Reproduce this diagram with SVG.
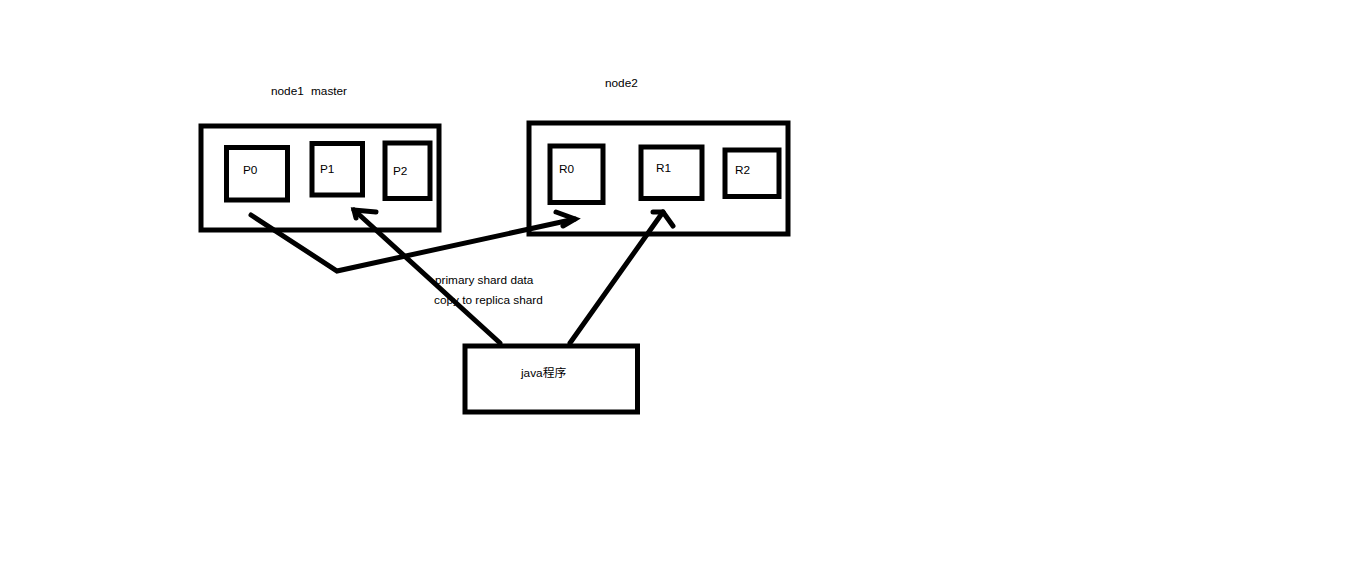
<svg xmlns="http://www.w3.org/2000/svg" width="1360" height="561" viewBox="0 0 1360 561">
<style>
.box{fill:none;stroke:#000;stroke-width:5}
.sub{fill:none;stroke:#000;stroke-width:5}
.ln{fill:none;stroke:#000;stroke-width:5;stroke-linejoin:miter;stroke-linecap:round}
text{font-family:"Liberation Sans","Noto Sans CJK SC",sans-serif;font-size:11.8px;fill:#000}
</style>
<rect width="1360" height="561" fill="#fff"/>
<g id="node1">
<text x="271" y="95">node1</text>
<text x="311" y="95">master</text>
<rect class="box" x="201" y="126" width="238" height="104"/>
</g>
<g id="P0"><rect class="sub" x="226.5" y="147.5" width="61" height="52.5"/><text x="243" y="174">P0</text></g>
<g id="P1"><rect class="sub" x="312" y="143.5" width="50.5" height="51.5"/><text x="320" y="173">P1</text></g>
<g id="P2"><rect class="sub" x="385" y="143" width="45" height="55.5"/><text x="393" y="175">P2</text></g>
<g id="node2">
<text x="605" y="87">node2</text>
<rect class="box" x="529" y="123" width="259" height="111"/>
</g>
<g id="R0"><rect class="sub" x="550" y="146" width="53" height="56.5"/><text x="559" y="173">R0</text></g>
<g id="R1"><rect class="sub" x="641" y="147" width="61" height="51.5"/><text x="656" y="172">R1</text></g>
<g id="R2"><rect class="sub" x="725" y="150" width="54" height="46.5"/><text x="735" y="174">R2</text></g>
<g id="java">
<rect class="box" x="465" y="346" width="172.5" height="66"/>
<text x="521" y="377">java程序</text>
</g>
<g id="connectors">
<polyline class="ln" points="251,215 337,271 575,219"/>
<polyline class="ln" points="556,212 575,219 563,226"/>
<line class="ln" x1="500" y1="343" x2="354" y2="210"/>
<polyline class="ln" points="376,212 354,210 356,218"/>
<line class="ln" x1="570" y1="343" x2="663" y2="212"/>
<polyline class="ln" points="653,212 663,212 673,226"/>
<text x="435" y="284">primary shard data</text>
<text x="434" y="304">copy to replica shard</text>
</g>
</svg>
